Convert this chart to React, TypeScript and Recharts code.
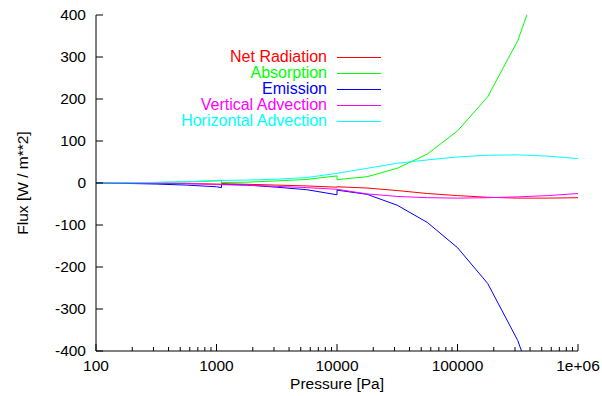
import React from 'react';
import { LineChart, Line, XAxis, YAxis, Legend } from 'recharts';

const FONT = '"Liberation Sans", Arial, Helvetica, sans-serif';

// pressure levels [Pa]; repeated levels mark the block boundaries (jumps)
const pressure = [
  100, 178, 316, 562, 1000, 1100,
  1100, 1778, 3162, 5623, 10000,
  10000, 17783, 31623, 56234, 100000, 177828, 316228, 562341, 1000000,
];

// flux terms [W / m**2]
const netRadiation = [
  0, -0.3, -0.8, -1.5, -2.5, -3,
  -1.5, -3, -5, -7, -10,
  -9, -12, -18, -25, -30, -34, -36, -36, -35,
];
const absorption = [
  0, 0.5, 1.2, 2.5, 5, 6,
  1, 2, 5, 8.5, 17,
  8, 15, 35, 69, 124, 205, 339, 540, 850,
];
const emission = [
  0, -1, -2.5, -5, -9, -11,
  -3, -5, -10, -16, -28,
  -17, -27, -53, -94, -154, -239, -375, -576, -885,
];
const verticalAdvection = [
  0, -0.2, -0.7, -1.5, -3.5, -4,
  -4, -5, -8, -11, -15,
  -15, -26, -32, -35, -36, -35, -33, -30, -25,
];
const horizontalAdvection = [
  0, 0.5, 1.5, 3, 6, 7,
  6, 7, 9, 13, 23,
  23, 35, 47, 55, 62, 66, 67, 64, 58,
];

const decades = [100, 1000, 10000, 100000, 1000000];
const decadeLabels = ['100', '1000', '10000', '100000', '1e+06'];
const fluxTicks = [-400, -300, -200, -100, 0, 100, 200, 300, 400];

// log axis: decades plus 2..9 minor ticks
const pressureTicks: number[] = [];
decades.forEach((d, i) => {
  pressureTicks.push(d);
  if (i < decades.length - 1) {
    for (let k = 2; k <= 9; k++) pressureTicks.push(k * d);
  }
});

const series = [
  { key: 'net', name: 'Net Radiation', color: '#ff0000', values: netRadiation },
  { key: 'abs', name: 'Absorption', color: '#00ff00', values: absorption },
  { key: 'emi', name: 'Emission', color: '#0000ff', values: emission },
  { key: 'vadv', name: 'Vertical Advection', color: '#ff00ff', values: verticalAdvection },
  { key: 'hadv', name: 'Horizontal Advection', color: '#00ffff', values: horizontalAdvection },
];

const data = pressure.map((p, i) => {
  const row: Record<string, number> = { p };
  series.forEach((s) => {
    row[s.key] = s.values[i];
  });
  return row;
});

const MAJOR = 7;
const MINOR = 4;
const TICK_FONT = 15.5;

const BottomTick = ({ x, y, payload }: any) => {
  const i = decades.indexOf(payload.value);
  return (
    <g>
      <line x1={x} x2={x} y1={y} y2={y - (i >= 0 ? MAJOR : MINOR)} stroke="#000" />
      {i >= 0 && (
        <text x={x} y={y + 20} textAnchor="middle" fontSize={TICK_FONT} fontFamily={FONT} fill="#000">
          {decadeLabels[i]}
        </text>
      )}
    </g>
  );
};

const TopTick = ({ x, y, payload }: any) => {
  const major = decades.includes(payload.value);
  return <line x1={x} x2={x} y1={y} y2={y + (major ? MAJOR : MINOR)} stroke="#000" />;
};

const LeftTick = ({ x, y, payload }: any) => (
  <g>
    <line x1={x} x2={x + MAJOR} y1={y} y2={y} stroke="#000" />
    <text x={x - 10} y={y + 5} textAnchor="end" fontSize={TICK_FONT} fontFamily={FONT} fill="#000">
      {payload.value}
    </text>
  </g>
);

const RightTick = ({ x, y }: any) => <line x1={x} x2={x - MAJOR} y1={y} y2={y} stroke="#000" />;

const LegendBox = () => (
  <div style={{ fontFamily: FONT, fontSize: 16, lineHeight: '16px' }}>
    {series.map((s) => (
      <div key={s.key} style={{ display: 'flex', alignItems: 'center', height: 16 }}>
        <span style={{ width: 147, textAlign: 'right', color: s.color, whiteSpace: 'nowrap' }}>{s.name}</span>
        <svg width={54} height={16} style={{ display: 'block' }}>
          <line x1={10} x2={54} y1={8.5} y2={8.5} stroke={s.color} strokeWidth={1} />
        </svg>
      </div>
    ))}
  </div>
);

export default function App() {
  return (
    <div style={{ position: 'absolute', left: 0, top: 0, background: '#fff' }}>
      <LineChart width={602} height={396} data={data} margin={{ top: 15, right: 24, bottom: 0, left: 0 }}>
        <XAxis
          xAxisId="b"
          dataKey="p"
          type="number"
          scale="log"
          domain={[100, 1000000]}
          allowDataOverflow
          ticks={pressureTicks}
          interval={0}
          height={45}
          tickSize={0}
          tickMargin={0}
          tickLine={false}
          axisLine={{ stroke: '#000' }}
          tick={<BottomTick />}
          label={{
            content: ({ viewBox }: any) => (
              <text
                x={viewBox.x + viewBox.width / 2}
                y={viewBox.y + 38}
                textAnchor="middle"
                fontSize={TICK_FONT}
                fontFamily={FONT}
                fill="#000"
              >
                Pressure [Pa]
              </text>
            ),
          }}
        />
        <XAxis
          xAxisId="t"
          orientation="top"
          dataKey="p"
          type="number"
          scale="log"
          domain={[100, 1000000]}
          allowDataOverflow
          ticks={pressureTicks}
          interval={0}
          height={0}
          tickSize={0}
          tickMargin={0}
          tickLine={false}
          axisLine={{ stroke: '#000' }}
          tick={<TopTick />}
        />
        <YAxis
          yAxisId="l"
          type="number"
          domain={[-400, 400]}
          allowDataOverflow
          ticks={fluxTicks}
          interval={0}
          width={96}
          tickSize={0}
          tickMargin={0}
          tickLine={false}
          axisLine={{ stroke: '#000' }}
          tick={<LeftTick />}
          label={{
            content: ({ viewBox }: any) => {
              const cx = 28;
              const cy = viewBox.y + viewBox.height / 2;
              return (
                <text
                  x={cx}
                  y={cy}
                  transform={`rotate(-90 ${cx} ${cy})`}
                  textAnchor="middle"
                  fontSize={TICK_FONT}
                  fontFamily={FONT}
                  fill="#000"
                >
                  Flux [W / m**2]
                </text>
              );
            },
          }}
        />
        <YAxis
          yAxisId="r"
          orientation="right"
          type="number"
          domain={[-400, 400]}
          allowDataOverflow
          ticks={fluxTicks}
          interval={0}
          width={0}
          tickSize={0}
          tickMargin={0}
          tickLine={false}
          axisLine={{ stroke: '#000' }}
          tick={<RightTick />}
        />
        <Legend
          layout="horizontal"
          verticalAlign="middle"
          align="center"
          wrapperStyle={{ left: 180, top: 49, width: 201 }}
          content={<LegendBox />}
        />
        {series.map((s) => (
          <Line
            key={s.key}
            xAxisId="b"
            yAxisId="l"
            type="linear"
            dataKey={s.key}
            name={s.name}
            stroke={s.color}
            strokeWidth={1}
            dot={false}
            activeDot={false}
            isAnimationActive={false}
          />
        ))}
      </LineChart>
    </div>
  );
}
